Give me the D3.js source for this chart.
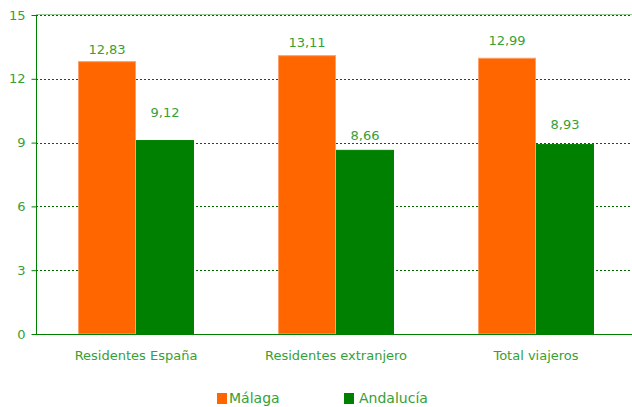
<!DOCTYPE html>
<html>
<head>
<meta charset="utf-8">
<script src="https://cdn.jsdelivr.net/npm/d3@7"></script>
<style>
  body { margin: 0; background: #fff; }
  text { font-family: "DejaVu Sans", Verdana, sans-serif; }
</style>
</head>
<body>
<svg width="632" height="407"></svg>
<script>
// chart data
const categories = ["Residentes España", "Residentes extranjero", "Total viajeros"];
const series = ["Málaga", "Andalucía"];
const malaga = [12.83, 13.11, 12.99];
const andalucia = [9.12, 8.66, 8.93];
const yTicks = [0, 3, 6, 9, 12, 15];

const colors = ["#ff6600", "#008000"];
const strokes = ["#ff9f6a", "#008000"];
const textColor = "#36a036";
// distance from bar top to label centre, as placed in the original
const labelOffset = [[12, 28], [13, 14], [17, 20]];

const svg = d3.select("svg");
const m = { left: 36, top: 15, bottom: 334 };

const x = d3.scaleBand()
  .domain(categories)
  .range([m.left, m.left + 600])
  .paddingInner(0.42)
  .paddingOuter(0.21);

const xs = d3.scaleBand()
  .domain(series)
  .range([0, x.bandwidth()]);

const y = d3.scaleLinear()
  .domain([0, 15])
  .range([m.bottom, m.top]);

// gridlines
const g = svg.append("g");
g.selectAll(".grid")
  .data(yTicks.filter(d => d > 0))
  .enter()
  .append("line")
  .attr("x1", m.left)
  .attr("x2", 632)
  .attr("y1", d => Math.round(y(d)) + 0.5)
  .attr("y2", d => Math.round(y(d)) + 0.5)
  .attr("stroke", "#006600")
  .attr("stroke-width", 1)
  .attr("stroke-dasharray", "2,2");

// top border
g.append("line")
  .attr("x1", m.left).attr("x2", 632)
  .attr("y1", Math.round(y(15)) - 0.5).attr("y2", Math.round(y(15)) - 0.5)
  .attr("stroke", "#99cc99");

// bars
const rows = categories.map((c, i) => ({ cat: c, i, vals: [malaga[i], andalucia[i]] }));

const groups = svg.selectAll(".grp")
  .data(rows)
  .enter()
  .append("g")
  .attr("transform", d => `translate(${x(d.cat)},0)`);

groups.selectAll("rect")
  .data(d => d.vals.map((v, j) => ({ v, j })))
  .enter()
  .append("rect")
  .attr("x", d => xs(series[d.j]) + 0.5)
  .attr("width", xs.bandwidth() - 1)
  .attr("y", d => y(d.v) + 0.5)
  .attr("height", d => y(0) - y(d.v) - 0.5)
  .attr("fill", d => colors[d.j])
  .attr("stroke", d => strokes[d.j])
  .attr("stroke-width", 1);

groups.selectAll(".val")
  .data(d => d.vals.map((v, j) => ({ v, j, i: d.i })))
  .enter()
  .append("text")
  .attr("x", d => xs(series[d.j]) + xs.bandwidth() / 2)
  .attr("y", d => y(d.v) - labelOffset[d.i][d.j])
  .attr("dy", "0.35em")
  .attr("text-anchor", "middle")
  .attr("font-size", 13)
  .attr("fill", textColor)
  .text(d => d3.format(".2f")(d.v).replace(".", ","));

// y axis
const yAxis = svg.append("g")
  .attr("transform", `translate(${m.left + 0.5},0)`)
  .call(d3.axisLeft(y).tickValues(yTicks).tickSize(5).tickPadding(6));
yAxis.select(".domain").attr("stroke", "#008000").attr("d", `M0,${m.top}V${m.bottom}`);
yAxis.selectAll(".tick line").attr("stroke", "#008000");
yAxis.selectAll(".tick text").attr("fill", textColor).attr("font-size", 13)
  .attr("font-family", "DejaVu Sans, Verdana, sans-serif");

// x axis
const xAxis = svg.append("g")
  .attr("transform", `translate(0,${Math.round(y(0)) + 0.5})`)
  .call(d3.axisBottom(x).tickSize(0).tickPadding(16));
xAxis.select(".domain").attr("stroke", "#008000").attr("d", `M${m.left - 4},0H632`);
xAxis.selectAll(".tick text").attr("fill", textColor).attr("font-size", 13)
  .attr("font-family", "DejaVu Sans, Verdana, sans-serif");

// legend
const legendX = [217, 344];
const legend = svg.selectAll(".leg")
  .data(series)
  .enter()
  .append("g")
  .attr("transform", (d, i) => `translate(${legendX[i]},393)`);
legend.append("rect")
  .attr("width", 10).attr("height", 11)
  .attr("fill", (d, i) => colors[i]);
legend.append("text")
  .attr("x", (d, i) => i === 0 ? 12 : 15).attr("y", 5.5)
  .attr("dy", "0.35em")
  .attr("font-size", 14)
  .attr("fill", textColor)
  .text(d => d);
</script>
</body>
</html>
